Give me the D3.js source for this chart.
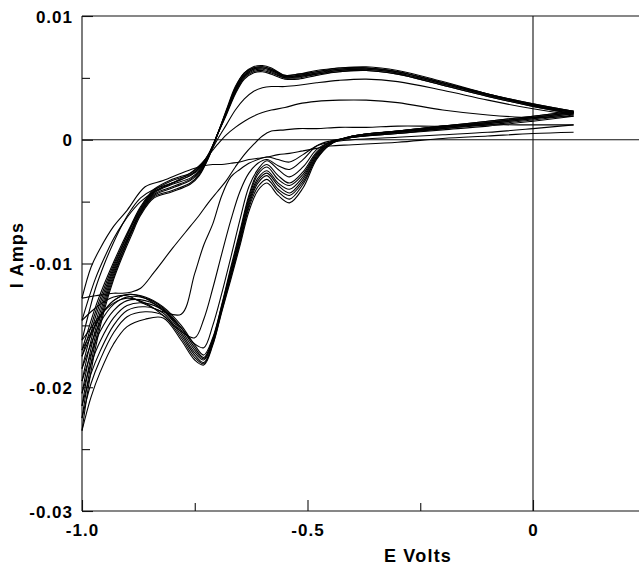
<!DOCTYPE html>
<html>
<head>
<meta charset="utf-8">
<script src="https://cdn.jsdelivr.net/npm/d3@7"></script>
<style>
  html, body { margin: 0; padding: 0; background: #fff; }
  svg { display: block; }
  .lbl { font-family: "Liberation Sans", Arial, Helvetica, sans-serif; font-weight: bold; fill: #000; }
</style>
</head>
<body>
<svg id="chart" width="639" height="568"></svg>
<script>
// Potential grids (V) for the negative-going and positive-going sweeps
const cathodicE = [0.09, 0.0, -0.1, -0.2, -0.3, -0.4, -0.45, -0.48, -0.51, -0.54, -0.565, -0.59, -0.61, -0.63,
  -0.65, -0.67, -0.69, -0.71, -0.73, -0.75, -0.78, -0.82, -0.86, -0.9, -0.93, -0.96, -0.98, -1.0];
const anodicE = [-1.0, -0.985, -0.97, -0.95, -0.93, -0.91, -0.89, -0.87, -0.84, -0.8, -0.76, -0.74, -0.72, -0.70,
  -0.68, -0.66, -0.64, -0.62, -0.60, -0.58, -0.55, -0.52, -0.48, -0.43, -0.37, -0.3, -0.2, -0.1, 0.0, 0.09];

// Current (A) on the negative-going sweep, one row per cycle
const cathodicI = [
  [0.0006, 0.0005, 0.0003, 0.0001, -0.0002, -0.0004, -0.0005, -0.0007, -0.0009, -0.0011, -0.0012, -0.0014, -0.0015, -0.0016, -0.0018, -0.0019, -0.0020, -0.0020, -0.0021, -0.0023, -0.0027, -0.0033, -0.0038, -0.0057, -0.0070, -0.0088, -0.0103, -0.0128],
  [0.0012, 0.0009, 0.0006, 0.0004, 0.0002, 0.0000, -0.0002, -0.0005, -0.0012, -0.0018, -0.0016, -0.0014, -0.0016, -0.0019, -0.0024, -0.0030, -0.0045, -0.0068, -0.0085, -0.0108, -0.0141, -0.0139, -0.0133, -0.0126, -0.0127, -0.0133, -0.0139, -0.0146],
  [0.0019, 0.0015, 0.0011, 0.0008, 0.0005, 0.0002, -0.0001, -0.0005, -0.0016, -0.0024, -0.0021, -0.0016, -0.0019, -0.0027, -0.0042, -0.0065, -0.0092, -0.0120, -0.0145, -0.0160, -0.0155, -0.0142, -0.0132, -0.0128, -0.0132, -0.0142, -0.0152, -0.0162],
  [0.0020, 0.0016, 0.0012, 0.0009, 0.0005, 0.0002, -0.0002, -0.0008, -0.0022, -0.0030, -0.0024, -0.0017, -0.0024, -0.0038, -0.0065, -0.0095, -0.0124, -0.0150, -0.0168, -0.0165, -0.0152, -0.0138, -0.0128, -0.0125, -0.0130, -0.0143, -0.0156, -0.0170],
  [0.0021, 0.0017, 0.0013, 0.0009, 0.0006, 0.0002, -0.0002, -0.0010, -0.0026, -0.0035, -0.0029, -0.0020, -0.0026, -0.0045, -0.0074, -0.0103, -0.0133, -0.0160, -0.0174, -0.0166, -0.0150, -0.0135, -0.0127, -0.0125, -0.0130, -0.0143, -0.0158, -0.0175],
  [0.0021, 0.0017, 0.0013, 0.0010, 0.0006, 0.0002, -0.0002, -0.0011, -0.0028, -0.0037, -0.0032, -0.0022, -0.0028, -0.0047, -0.0076, -0.0105, -0.0134, -0.0161, -0.0176, -0.0168, -0.0152, -0.0136, -0.0128, -0.0127, -0.0133, -0.0148, -0.0165, -0.0185],
  [0.0022, 0.0018, 0.0014, 0.0010, 0.0006, 0.0002, -0.0003, -0.0012, -0.0030, -0.0040, -0.0035, -0.0025, -0.0031, -0.0049, -0.0078, -0.0107, -0.0135, -0.0162, -0.0177, -0.0170, -0.0154, -0.0137, -0.0130, -0.0130, -0.0138, -0.0155, -0.0173, -0.0195],
  [0.0022, 0.0018, 0.0014, 0.0010, 0.0007, 0.0003, -0.0003, -0.0013, -0.0032, -0.0043, -0.0037, -0.0027, -0.0033, -0.0051, -0.0080, -0.0108, -0.0136, -0.0163, -0.0178, -0.0172, -0.0156, -0.0138, -0.0132, -0.0134, -0.0144, -0.0163, -0.0181, -0.0205],
  [0.0022, 0.0018, 0.0014, 0.0011, 0.0007, 0.0003, -0.0003, -0.0014, -0.0034, -0.0045, -0.0040, -0.0029, -0.0035, -0.0053, -0.0082, -0.0110, -0.0137, -0.0164, -0.0180, -0.0174, -0.0158, -0.0140, -0.0135, -0.0138, -0.0150, -0.0171, -0.0189, -0.0215],
  [0.0023, 0.0019, 0.0015, 0.0011, 0.0007, 0.0003, -0.0004, -0.0015, -0.0036, -0.0048, -0.0042, -0.0032, -0.0038, -0.0055, -0.0084, -0.0111, -0.0138, -0.0165, -0.0181, -0.0176, -0.0160, -0.0142, -0.0139, -0.0143, -0.0156, -0.0178, -0.0197, -0.0225],
  [0.0023, 0.0019, 0.0015, 0.0011, 0.0007, 0.0003, -0.0004, -0.0016, -0.0039, -0.0051, -0.0045, -0.0035, -0.0041, -0.0058, -0.0086, -0.0113, -0.0139, -0.0166, -0.0182, -0.0178, -0.0162, -0.0144, -0.0145, -0.0151, -0.0165, -0.0188, -0.0208, -0.0235]
];

// Current (A) on the positive-going sweep, one row per cycle
const anodicI = [
  [-0.0128, -0.0127, -0.0126, -0.0125, -0.0124, -0.0124, -0.0123, -0.0120, -0.0107, -0.0088, -0.0070, -0.0061, -0.0051, -0.0042, -0.0033, -0.0022, -0.0012, -0.0004, 0.0003, 0.0007, 0.0008, 0.0009, 0.0009, 0.0010, 0.0010, 0.0011, 0.0011, 0.0012, 0.0012, 0.0012],
  [-0.0146, -0.0128, -0.0112, -0.0095, -0.0080, -0.0068, -0.0058, -0.0050, -0.0042, -0.0035, -0.0027, -0.0021, -0.0013, -0.0004, 0.0004, 0.0010, 0.0015, 0.0019, 0.0022, 0.0024, 0.0026, 0.0029, 0.0031, 0.0032, 0.0032, 0.0030, 0.0024, 0.0020, 0.0018, 0.0019],
  [-0.0162, -0.0140, -0.0120, -0.0100, -0.0083, -0.0068, -0.0056, -0.0047, -0.0040, -0.0035, -0.0029, -0.0023, -0.0013, 0.0000, 0.0012, 0.0024, 0.0033, 0.0039, 0.0042, 0.0043, 0.0043, 0.0044, 0.0046, 0.0048, 0.0049, 0.0047, 0.0040, 0.0032, 0.0025, 0.0020],
  [-0.0170, -0.0152, -0.0135, -0.0116, -0.0099, -0.0083, -0.0068, -0.0054, -0.0040, -0.0032, -0.0027, -0.0022, -0.0012, 0.0004, 0.0020, 0.0037, 0.0049, 0.0054, 0.0055, 0.0053, 0.0049, 0.0049, 0.0052, 0.0055, 0.0056, 0.0053, 0.0044, 0.0035, 0.0027, 0.0021],
  [-0.0175, -0.0157, -0.0139, -0.0119, -0.0101, -0.0085, -0.0069, -0.0055, -0.0041, -0.0033, -0.0028, -0.0023, -0.0012, 0.0004, 0.0021, 0.0038, 0.0050, 0.0055, 0.0056, 0.0054, 0.0050, 0.0050, 0.0053, 0.0055, 0.0056, 0.0053, 0.0044, 0.0035, 0.0027, 0.0021],
  [-0.0185, -0.0163, -0.0143, -0.0122, -0.0103, -0.0086, -0.0070, -0.0056, -0.0042, -0.0035, -0.0029, -0.0024, -0.0013, 0.0004, 0.0021, 0.0039, 0.0051, 0.0056, 0.0057, 0.0055, 0.0050, 0.0051, 0.0053, 0.0056, 0.0057, 0.0054, 0.0045, 0.0036, 0.0028, 0.0022],
  [-0.0195, -0.0170, -0.0148, -0.0125, -0.0105, -0.0088, -0.0072, -0.0057, -0.0043, -0.0036, -0.0031, -0.0025, -0.0013, 0.0004, 0.0022, 0.0040, 0.0052, 0.0057, 0.0058, 0.0056, 0.0051, 0.0051, 0.0054, 0.0056, 0.0057, 0.0054, 0.0045, 0.0036, 0.0028, 0.0022],
  [-0.0205, -0.0177, -0.0153, -0.0128, -0.0107, -0.0089, -0.0073, -0.0058, -0.0044, -0.0038, -0.0032, -0.0026, -0.0014, 0.0004, 0.0022, 0.0041, 0.0052, 0.0057, 0.0058, 0.0056, 0.0051, 0.0052, 0.0054, 0.0057, 0.0058, 0.0055, 0.0046, 0.0036, 0.0028, 0.0022],
  [-0.0215, -0.0184, -0.0158, -0.0131, -0.0109, -0.0091, -0.0074, -0.0059, -0.0045, -0.0039, -0.0033, -0.0027, -0.0014, 0.0004, 0.0023, 0.0041, 0.0053, 0.0058, 0.0059, 0.0057, 0.0051, 0.0052, 0.0055, 0.0057, 0.0058, 0.0055, 0.0046, 0.0037, 0.0028, 0.0023],
  [-0.0225, -0.0191, -0.0163, -0.0134, -0.0111, -0.0092, -0.0075, -0.0060, -0.0046, -0.0041, -0.0035, -0.0028, -0.0015, 0.0004, 0.0023, 0.0042, 0.0054, 0.0058, 0.0059, 0.0057, 0.0052, 0.0053, 0.0055, 0.0058, 0.0058, 0.0055, 0.0046, 0.0037, 0.0029, 0.0023],
  [-0.0235, -0.0198, -0.0168, -0.0137, -0.0113, -0.0094, -0.0077, -0.0061, -0.0047, -0.0042, -0.0036, -0.0029, -0.0015, 0.0004, 0.0024, 0.0043, 0.0054, 0.0059, 0.0060, 0.0058, 0.0052, 0.0053, 0.0056, 0.0058, 0.0059, 0.0056, 0.0047, 0.0037, 0.0029, 0.0023]
];

// Axis ticks and labels
const xLabelTicks = [-1.0, -0.5, 0];
const xMinorTicks = [-0.75, -0.25];
const yLabelTicks = [0.01, 0, -0.01, -0.02, -0.03];
const yMinorTicks = [0.005, -0.005, -0.015, -0.025];
const xTitle = "E Volts";
const yTitle = "I Amps";

const W = 639, H = 568;
const svg = d3.select("#chart");

const x = d3.scaleLinear().domain([-1.0, 0]).range([82, 533]);
const y = d3.scaleLinear().domain([-0.03, 0.01]).range([511, 16]);
const xRight = W;

const plot = svg.append("g");

// Frame: left edge, top edge, bottom edge, zero-current and zero-potential lines
const frame = plot.append("g").attr("stroke", "#111").attr("stroke-width", 1.1).attr("fill", "none");
frame.append("line").attr("x1", x(-1)).attr("x2", x(-1)).attr("y1", y(0.01)).attr("y2", y(-0.03));
frame.append("line").attr("x1", x(-1)).attr("x2", xRight).attr("y1", y(0.01)).attr("y2", y(0.01));
frame.append("line").attr("x1", x(-1)).attr("x2", xRight).attr("y1", y(-0.03)).attr("y2", y(-0.03));
frame.append("line").attr("x1", x(-1)).attr("x2", xRight).attr("y1", y(0)).attr("y2", y(0));
frame.append("line").attr("x1", x(0)).attr("x2", x(0)).attr("y1", y(0.01)).attr("y2", y(-0.03));

// Left axis: inward ticks, labels with a plain hyphen for negatives
const yAxisMinor = d3.axisLeft(y).tickValues(yMinorTicks).tickSize(-8).tickFormat("");
const yAxisMajor = d3.axisLeft(y).tickValues(yLabelTicks).tickSize(-11).tickPadding(9)
  .tickFormat(d => d === 0 ? "0" : (d < 0 ? "-" : "") + Math.abs(d).toFixed(2));
const gyMinor = svg.append("g").attr("transform", `translate(${x(-1)},0)`).call(yAxisMinor);
const gyMajor = svg.append("g").attr("transform", `translate(${x(-1)},0)`).call(yAxisMajor);
[gyMinor, gyMajor].forEach(g => {
  g.select(".domain").remove();
  g.selectAll(".tick line").attr("stroke", "#111").attr("stroke-width", 1.1);
});
gyMajor.selectAll(".tick text")
  .attr("class", "lbl").attr("font-size", 17).attr("letter-spacing", "1px")
  .attr("dy", "0.36em");

// Bottom axis: inward ticks
const xAxisMinor = d3.axisBottom(x).tickValues(xMinorTicks).tickSize(-8).tickFormat("");
const xAxisMajor = d3.axisBottom(x).tickValues(xLabelTicks).tickSize(-11).tickPadding(13)
  .tickFormat(d => d === 0 ? "0" : (d < 0 ? "-" : "") + Math.abs(d).toFixed(1));
const gxMinor = svg.append("g").attr("transform", `translate(0,${y(-0.03)})`).call(xAxisMinor);
const gxMajor = svg.append("g").attr("transform", `translate(0,${y(-0.03)})`).call(xAxisMajor);
[gxMinor, gxMajor].forEach(g => {
  g.select(".domain").remove();
  g.selectAll(".tick line").attr("stroke", "#111").attr("stroke-width", 1.1);
});
gxMajor.selectAll(".tick text")
  .attr("class", "lbl").attr("font-size", 17).attr("letter-spacing", "1px");

// Axis titles
svg.append("text").attr("class", "lbl")
  .attr("x", 418).attr("y", 562).attr("text-anchor", "middle")
  .attr("font-size", 18).attr("letter-spacing", "1.2px").text(xTitle);
svg.append("text").attr("class", "lbl")
  .attr("transform", "translate(23,255) rotate(-90)").attr("text-anchor", "middle")
  .attr("font-size", 18).attr("letter-spacing", "1.2px").text(yTitle);

// Voltammogram cycles: each sweep drawn as its own smooth stroke
const line = d3.line()
  .x(d => x(d[0])).y(d => y(d[1]))
  .curve(d3.curveCatmullRom.alpha(0.5));

const curves = plot.append("g").attr("fill", "none").attr("stroke", "#000")
  .attr("stroke-width", 1.1).attr("stroke-linejoin", "round");

cathodicI.forEach(row => {
  curves.append("path").attr("d", line(cathodicE.map((e, i) => [e, row[i]])));
});
anodicI.forEach(row => {
  curves.append("path").attr("d", line(anodicE.map((e, i) => [e, row[i]])));
});
</script>
</body>
</html>
